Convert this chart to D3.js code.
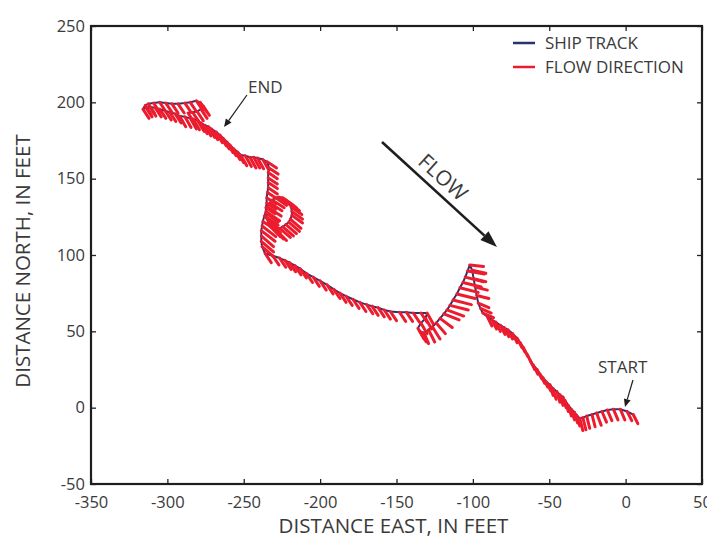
<!DOCTYPE html>
<html>
<head>
<meta charset="utf-8">
<script src="https://cdn.jsdelivr.net/npm/d3@7"></script>
<style>
  body { margin: 0; background: #fff; }
  text { font-family: "Open Sans", sans-serif; fill: #3a3a3a; }
</style>
</head>
<body>
<div id="chart"></div>
<script>
// axis ticks
const xTicks = [-350, -300, -250, -200, -150, -100, -50, 0, 50];
const yTicks = [-50, 0, 50, 100, 150, 200, 250];

// ship track, start -> end (feet east / north)
const trackE = [5, 1, -3.5, -8, -12, -15.5, -19, -22, -25.5, -28, -30, -32, -33.5, -35.5, -37.5, -39.5, -41, -43, -45, -47.5,
  -49.5, -52, -54, -56, -58, -60.5, -62.5, -64.5, -67, -69, -71, -74, -77, -79.5, -82, -85, -87.5, -90.5, -93.5, -95,
  -96.5, -97.5, -98.5, -99.5, -100.5, -102, -103.5, -105, -106.5, -108.5, -110.5, -113, -115, -117, -119, -121.5, -124, -126.5, -129, -132,
  -134.5, -136, -134, -131, -130, -134, -139, -143.5, -148, -154, -158, -162, -166, -169.5, -174, -178.5, -183, -187, -191, -195.5,
  -200, -204.5, -209, -213, -216.5, -220, -223, -226.5, -231, -236, -238, -238.5, -238.5, -238.5, -238, -237.5, -236.5, -235.5, -234.5, -233,
  -231.5, -229, -227, -224.5, -222.5, -220.5, -219, -218.5, -218.5, -219.5, -220.5, -222.5, -224.5, -226.5, -229, -231, -233, -234, -235, -235.5,
  -235.5, -235, -235, -234.5, -234, -234, -234, -234, -233.5, -234.5, -237.5, -241, -243.5, -246, -249, -252, -254, -256.5, -259, -261,
  -263.5, -265.5, -268, -271, -273, -275.5, -278, -280, -283, -285, -288.5, -292, -295, -298.5, -301.5, -305, -308, -311.5, -314, -316,
  -314.5, -312.5, -309, -305, -301, -297, -293, -288.5, -285, -281, -278.5, -276.5, -278, -280.5, -283.5, -286.5];
const trackN = [-4.5, -2.5, -1, -1, -1.5, -2.5, -3.5, -4.5, -5.5, -6.5, -7, -5, -3, -1, 1.5, 4.5, 7, 8.5, 10.5, 12.5,
  15, 17, 19.5, 22, 25, 28, 31, 35, 39.5, 42.5, 45.5, 48.5, 51, 52.5, 54, 56, 57.5, 59.5, 62, 65,
  68.5, 73.5, 79, 84.5, 90, 93.5, 89.5, 85.5, 82, 78.5, 74.5, 70.5, 67, 64, 61.5, 58.5, 55.5, 53, 51, 49,
  50, 52, 55.5, 58.5, 62, 62, 62, 62.5, 62.5, 63, 64, 65.5, 66.5, 67.5, 69, 71, 73, 75, 77.5, 80.5,
  83, 85.5, 88, 91, 93, 95, 96.5, 98, 99.5, 101, 105.5, 109, 112.5, 116, 119, 122, 125.5, 128.5, 131.5, 134,
  136, 137.5, 138, 137.5, 136, 134, 131.5, 128.5, 126, 123.5, 121.5, 120, 118.5, 117.5, 116.5, 117.5, 119, 121.5, 124, 127.5,
  131, 134, 137.5, 141, 144, 147.5, 150.5, 154, 157, 161, 162.5, 163.5, 164, 164, 165, 165.5, 167.5, 169.5, 172, 174,
  176.5, 178.5, 180.5, 182.5, 184, 185, 186.5, 188, 189, 189.5, 190.5, 191, 192.5, 193.5, 194.5, 195.5, 196.5, 197, 196.5, 195.5,
  198, 199, 199.5, 200, 199.5, 199, 199, 199.5, 200, 201, 200, 197.5, 195.5, 194, 193.5, 193];

// flow direction vector at each track point (feet east / north)
const flowE = [3, 3, 3, 3, 3, 3, 3, 2, 2, 2, 2, 2, 2, 2, 2, 2, 2, 2, 2, 2,
  2, 3, 3, 3, 3, 3, 3, 3, 3, 3, 3, 3, 3, 3, 3, 3, 3, 3, 7, 7,
  7, 8, 8, 8, 9, 9, 11, 12, 12, 12, 12, 12, 12, 11, 10, 8, 6, 5, 4, 3,
  4, 4, 4, 4, 4, 4, 4, 4, 4, 4, 4, 4, 4, 4, 4, 4, 4, 4, 4, 4,
  4, 4, 4, 4, 4, 4, 4, 4, 4, 4, 8, 8, 8, 9, 9, 9, 9, 9, 9, 8,
  8, 7, 7, 7, 7, 7, 7, 7, 7, 7, 7, 7, 7, 7, 7, 7, 7, 8, 8, 8,
  6, 6, 6, 6, 6, 6, 6, 6, 6, 6, 4, 4, 4, 4, 4, 4, 4, 4, 4, 4,
  4, 4, 4, 4, 4, 4, 4, 4, 4, 4, 4, 4, 4, 4, 4, 4, 4, 4, 4, 4,
  4, 4, 4, 4, 4, 4, 4, 4, 4, 4, 4, 4, 4, 4, 4, 4];
const flowN = [-6, -6, -7, -7, -7, -7, -8, -8, -8, -8, -8, -7, -7, -7, -7, -7, -7, -7, -7, -7,
  -7, -6, -6, -6, -6, -6, -6, -6, -6, -6, -6, -6, -6, -6, -6, -6, -6, -6, -3, -3,
  -3, -2, -2, -2, -2, -1, -2, -3, -3, -3, -3, -3, -3, -4, -4, -6, -7, -8, -8, -7,
  -7, -7, -7, -7, -7, -6, -6, -6, -6, -6, -6, -6, -6, -6, -6, -6, -6, -6, -6, -6,
  -6, -6, -6, -6, -6, -6, -6, -6, -6, -6, -7, -7, -7, -7, -7, -6, -6, -6, -6, -5,
  -5, -5, -5, -5, -5, -5, -5, -5, -5, -6, -6, -6, -6, -6, -7, -7, -7, -7, -7, -6,
  -4, -4, -4, -4, -4, -4, -4, -4, -4, -4, -7, -7, -7, -7, -7, -7, -7, -7, -7, -7,
  -7, -7, -7, -7, -7, -7, -7, -7, -7, -7, -7, -7, -6, -6, -6, -6, -6, -6, -6, -6,
  -6, -6, -6, -6, -6, -6, -6, -6, -6, -6, -6, -6, -6, -6, -6, -6];

const legendLabels = ["SHIP TRACK", "FLOW DIRECTION"];
const legendColors = ["#2b3270", "#ec1c2e"];

const W = 707, H = 540;
const L = 91, R = 702, T = 26, B = 484;

const svg = d3.select("#chart").append("svg")
  .attr("width", W).attr("height", H);

const x = d3.scaleLinear().domain([-350, 50]).range([L, R]);
const y = d3.scaleLinear().domain([-50, 250]).range([B, T]);

// axes, ticks pointing inward on all four sides
const axisFont = g => g.selectAll("text")
  .style("font-family", '"Open Sans", sans-serif')
  .style("font-size", "16.5px")
  .attr("fill", "#444");

svg.append("g").attr("transform", `translate(0,${B})`)
  .call(d3.axisBottom(x).tickValues(xTicks).tickSize(-5).tickPadding(12).tickFormat(d => String(d)))
  .call(g => g.select(".domain").remove())
  .call(axisFont);
svg.append("g").attr("transform", `translate(0,${T})`)
  .call(d3.axisTop(x).tickValues(xTicks).tickSize(-5).tickFormat(""))
  .call(g => g.select(".domain").remove());
svg.append("g").attr("transform", `translate(${L},0)`)
  .call(d3.axisLeft(y).tickValues(yTicks).tickSize(-5).tickPadding(6).tickFormat(d => String(d)))
  .call(g => g.select(".domain").remove())
  .call(axisFont);
svg.append("g").attr("transform", `translate(${R},0)`)
  .call(d3.axisRight(y).tickValues(yTicks).tickSize(-5).tickFormat(""))
  .call(g => g.select(".domain").remove());

svg.selectAll(".tick line").attr("stroke", "#222").attr("stroke-width", 1.3);

// frame
svg.append("rect")
  .attr("x", L).attr("y", T).attr("width", R - L).attr("height", B - T)
  .attr("fill", "none").attr("stroke", "#1e1e1e").attr("stroke-width", 2.2);

// ship track
const idx = d3.range(trackE.length);
const line = d3.line().x(i => x(trackE[i])).y(i => y(trackN[i]));
svg.append("path")
  .attr("d", line(idx))
  .attr("fill", "none")
  .attr("stroke", legendColors[0])
  .attr("stroke-width", 2)
  .attr("stroke-linejoin", "round");

// flow direction segments
svg.append("g").selectAll("line")
  .data(idx)
  .join("line")
  .attr("x1", i => x(trackE[i]))
  .attr("y1", i => y(trackN[i]))
  .attr("x2", i => x(trackE[i] + flowE[i]))
  .attr("y2", i => y(trackN[i] + flowN[i]))
  .attr("stroke", legendColors[1])
  .attr("stroke-width", 3)
  .attr("stroke-linecap", "round");

// legend
const leg = svg.append("g");
legendLabels.forEach((lab, i) => {
  const ly = 43 + i * 24;
  leg.append("line")
    .attr("x1", 513).attr("x2", 535).attr("y1", ly).attr("y2", ly)
    .attr("stroke", legendColors[i]).attr("stroke-width", 2.5);
  leg.append("text")
    .attr("x", 545).attr("y", ly + 6)
    .style("font-size", "17px")
    .text(lab);
});

// arrow helper
function arrow(x1, y1, x2, y2, width, head, half) {
  const a = Math.atan2(y2 - y1, x2 - x1);
  const bx = x2 - head * Math.cos(a), by = y2 - head * Math.sin(a);
  svg.append("line")
    .attr("x1", x1).attr("y1", y1).attr("x2", bx).attr("y2", by)
    .attr("stroke", "#1e1e1e").attr("stroke-width", width);
  svg.append("path")
    .attr("d", `M${x2},${y2}L${bx - half * Math.sin(a)},${by + half * Math.cos(a)}L${bx + half * Math.sin(a)},${by - half * Math.cos(a)}Z`)
    .attr("fill", "#1e1e1e");
}

// big flow arrow
const fx1 = x(-159.5), fy1 = y(174), fx2 = x(-84.2), fy2 = y(105.2);
arrow(fx1, fy1, fx2, fy2, 2.6, 17, 6);
const ang = Math.atan2(fy2 - fy1, fx2 - fx1) * 180 / Math.PI;
svg.append("text")
  .attr("transform", `translate(${x(-119.6)},${y(151)}) rotate(${ang})`)
  .attr("text-anchor", "middle")
  .attr("dy", "0.35em")
  .style("font-size", "21px")
  .attr("fill", "#333")
  .text("FLOW");

// END / START annotations
svg.append("text").attr("x", x(-247.2)).attr("y", y(206.1))
  .style("font-size", "17px").text("END");
arrow(x(-247.9), y(204.8), x(-262.9), y(183.8), 1.2, 8, 3.5);

svg.append("text").attr("x", x(-18.1)).attr("y", y(22.7))
  .style("font-size", "17px").text("START");
arrow(x(4.8), y(18.1), x(-0.4), y(0.4), 1.2, 8, 3.5);

// axis titles
svg.append("text")
  .attr("x", (L + R) / 2 - 3).attr("y", 533)
  .attr("text-anchor", "middle")
  .style("font-size", "20.5px")
  .attr("fill", "#333")
  .text("DISTANCE EAST, IN FEET");
svg.append("text")
  .attr("transform", `translate(30,${(T + B) / 2 + 6}) rotate(-90)`)
  .attr("text-anchor", "middle")
  .style("font-size", "20.5px")
  .attr("fill", "#333")
  .text("DISTANCE NORTH, IN FEET");
</script>
</body>
</html>
